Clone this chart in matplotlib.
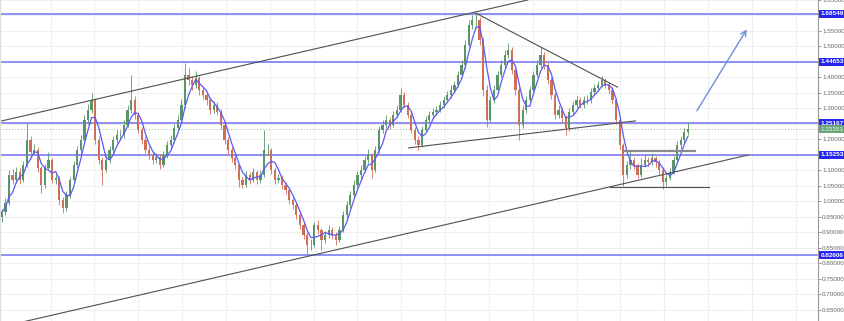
import numpy as np
import pandas as pd
import matplotlib
matplotlib.use("Agg")
import matplotlib.pyplot as plt

# one candle per ~2 months
first_open = 0.950
closes = [
    0.966, 0.995, 1.085, 1.069, 1.095, 1.069, 1.118, 1.198, 1.160, 1.166,
    1.108, 1.053, 1.108, 1.134, 1.069, 1.076, 1.005, 0.979, 1.021, 1.069,
    1.118, 1.166, 1.198, 1.263, 1.295, 1.327, 1.198, 1.134, 1.102, 1.134,
    1.166, 1.198, 1.215, 1.215, 1.247, 1.295, 1.327, 1.279, 1.231, 1.198,
    1.166, 1.150, 1.134, 1.144, 1.118, 1.150, 1.182, 1.198, 1.237, 1.263,
    1.311, 1.408, 1.392, 1.376, 1.398, 1.360, 1.344, 1.327, 1.295, 1.311,
    1.289, 1.247, 1.198, 1.166, 1.140, 1.118, 1.069, 1.053, 1.085, 1.069,
    1.095, 1.069, 1.085, 1.166, 1.166, 1.102, 1.069, 1.076, 1.053, 1.037,
    1.005, 0.989, 0.956, 0.924, 0.892, 0.860, 0.860, 0.924, 0.908, 0.876,
    0.892, 0.908, 0.892, 0.876, 0.908, 0.956, 0.989, 1.021, 1.053, 1.085,
    1.102, 1.134, 1.150, 1.102, 1.166, 1.231, 1.247, 1.263, 1.247, 1.279,
    1.295, 1.344, 1.311, 1.279, 1.231, 1.198, 1.182, 1.231, 1.263, 1.279,
    1.289, 1.295, 1.311, 1.327, 1.344, 1.360, 1.376, 1.408, 1.440, 1.505,
    1.569, 1.585, 1.585, 1.521, 1.360, 1.263, 1.327, 1.360, 1.408, 1.440,
    1.473, 1.489, 1.424, 1.360, 1.247, 1.295, 1.327, 1.360, 1.408, 1.440,
    1.473, 1.440, 1.392, 1.344, 1.279, 1.295, 1.269, 1.237, 1.289, 1.311,
    1.327, 1.311, 1.327, 1.327, 1.353, 1.366, 1.376, 1.392, 1.376, 1.360,
    1.327, 1.263, 1.182, 1.085, 1.118, 1.134, 1.118, 1.085, 1.118, 1.134,
    1.127, 1.140, 1.127, 1.102, 1.063, 1.076, 1.095, 1.134, 1.182, 1.198,
    1.224, 1.234,
]
highs = [
    0.975, 1.010, 1.100, 1.105, 1.110, 1.108, 1.130, 1.253, 1.210, 1.185,
    1.175, 1.115, 1.120, 1.160, 1.140, 1.090, 1.082, 1.015, 1.035, 1.080,
    1.130, 1.180, 1.215, 1.280, 1.315, 1.350, 1.335, 1.210, 1.145, 1.150,
    1.180, 1.212, 1.230, 1.232, 1.262, 1.310, 1.408, 1.340, 1.290, 1.240,
    1.210, 1.178, 1.160, 1.158, 1.152, 1.162, 1.195, 1.215, 1.250, 1.280,
    1.330, 1.447, 1.430, 1.405, 1.420, 1.405, 1.372, 1.355, 1.338, 1.325,
    1.322, 1.298, 1.255, 1.208, 1.175, 1.150, 1.125, 1.080, 1.098, 1.095,
    1.108, 1.102, 1.100, 1.231, 1.185, 1.172, 1.110, 1.090, 1.085, 1.062,
    1.045, 1.015, 0.998, 0.965, 0.935, 0.900, 0.880, 0.935, 0.940, 0.915,
    0.905, 0.925, 0.918, 0.900, 0.920, 0.968, 1.002, 1.035, 1.068, 1.098,
    1.118, 1.148, 1.168, 1.158, 1.180, 1.245, 1.262, 1.278, 1.272, 1.292,
    1.312, 1.366, 1.352, 1.320, 1.288, 1.240, 1.210, 1.242, 1.275, 1.292,
    1.302, 1.308, 1.325, 1.340, 1.358, 1.375, 1.390, 1.420, 1.455, 1.520,
    1.585, 1.600, 1.608, 1.595, 1.530, 1.375, 1.340, 1.375, 1.420, 1.455,
    1.488, 1.511, 1.498, 1.432, 1.368, 1.310, 1.340, 1.372, 1.420, 1.455,
    1.498, 1.482, 1.450, 1.400, 1.352, 1.310, 1.305, 1.278, 1.302, 1.325,
    1.340, 1.338, 1.340, 1.345, 1.365, 1.380, 1.390, 1.405, 1.398, 1.385,
    1.368, 1.335, 1.270, 1.190, 1.130, 1.162, 1.145, 1.125, 1.140, 1.150,
    1.145, 1.155, 1.148, 1.135, 1.110, 1.088, 1.108, 1.148, 1.195, 1.210,
    1.238, 1.256,
]
lows = [
    0.935, 0.958, 0.990, 1.055, 1.060, 1.055, 1.062, 1.110, 1.148, 1.150,
    1.095, 1.027, 1.045, 1.100, 1.060, 1.055, 0.990, 0.963, 0.970, 1.012,
    1.060, 1.108, 1.155, 1.190, 1.250, 1.285, 1.185, 1.120, 1.053, 1.095,
    1.125, 1.158, 1.188, 1.200, 1.205, 1.240, 1.285, 1.265, 1.220, 1.185,
    1.155, 1.138, 1.120, 1.125, 1.105, 1.110, 1.140, 1.170, 1.190, 1.228,
    1.255, 1.300, 1.375, 1.360, 1.365, 1.345, 1.330, 1.312, 1.282, 1.285,
    1.278, 1.235, 1.185, 1.152, 1.128, 1.105, 1.047, 1.045, 1.048, 1.058,
    1.062, 1.058, 1.060, 1.078, 1.150, 1.090, 1.058, 1.060, 1.040, 1.025,
    0.992, 0.975, 0.942, 0.910, 0.878, 0.827, 0.842, 0.852, 0.895, 0.844,
    0.865, 0.882, 0.880, 0.860, 0.868, 0.900, 0.948, 0.980, 1.012, 1.045,
    1.075, 1.095, 1.125, 1.076, 1.095, 1.158, 1.222, 1.238, 1.235, 1.240,
    1.270, 1.288, 1.300, 1.268, 1.220, 1.185, 1.166, 1.175, 1.225, 1.252,
    1.270, 1.280, 1.288, 1.302, 1.320, 1.335, 1.352, 1.370, 1.400, 1.432,
    1.498, 1.555, 1.560, 1.505, 1.340, 1.240, 1.255, 1.318, 1.352, 1.400,
    1.432, 1.462, 1.412, 1.345, 1.198, 1.238, 1.285, 1.318, 1.352, 1.400,
    1.430, 1.428, 1.380, 1.330, 1.265, 1.268, 1.255, 1.215, 1.228, 1.280,
    1.300, 1.300, 1.302, 1.315, 1.318, 1.345, 1.358, 1.368, 1.365, 1.348,
    1.315, 1.250, 1.170, 1.050, 1.075, 1.105, 1.105, 1.075, 1.078, 1.110,
    1.115, 1.118, 1.112, 1.090, 1.040, 1.050, 1.068, 1.088, 1.128, 1.170,
    1.188, 1.215,
]

# horizontal levels drawn on the chart and the text on their price tags
levels = [1.605, 1.450, 1.253, 1.150, 0.827]
level_tags = ["1.68549", "1.44653", "1.25167", "1.15253", "0.82606"]
last_price = 1.2335
last_tag = "1.23351"

# trend lines: (candle index, price) pairs
trend_lines = [
    [(0.0, 1.260), (146.4, 1.650)],
    [(0.0, 0.596), (207.8, 1.150)],
    [(131.9, 1.608), (171.4, 1.369)],
    [(113.3, 1.173), (176.4, 1.260)],
    [(169.4, 1.047), (196.9, 1.047)],
]
range_box_line = [(173.1, 1.163), (193.1, 1.163)]
arrow_line = [(193.1, 1.285), (207.8, 1.563)]

up_color = "#5b9468"
down_color = "#cf6f57"
level_color = "#7272f2"
tag_color = "#2626f0"


def draw_chart():
    n = len(closes)
    idx = np.arange(n)
    c = np.array(closes)
    o = np.concatenate([[first_open], c[:-1]])
    hi = np.array(highs)
    lo = np.array(lows)
    ma = pd.Series(c).rolling(4, min_periods=1).mean()

    fig = plt.figure(figsize=(8.45, 3.21), dpi=100)
    ax = fig.add_axes([0, 0, 818 / 845, 1])

    # grid
    ax.set_yticks(np.arange(0.60, 1.70, 0.05))
    ax.set_xticks(np.arange(13.6, 228, 12.2))
    ax.grid(True, color="#efefef", lw=0.8)
    ax.set_axisbelow(True)
    ax.tick_params(axis="x", length=0, labelbottom=False)

    for lv in levels:
        ax.axhline(lv, color=level_color, lw=1.1, zorder=2)
    ax.axhline(last_price, color="#8cbf94", lw=0.7, ls=(0, (1, 2)), zorder=2)

    colors = np.where(c >= o, up_color, down_color)
    ax.vlines(idx, lo, hi, colors=colors, lw=0.6, zorder=3)
    ax.bar(idx, c - o, bottom=o, width=0.62, color=colors, lw=0, zorder=3)
    ax.plot(idx, ma, color="#5a5af7", lw=0.9, zorder=4)

    for seg in trend_lines:
        xs, ys = zip(*seg)
        ax.plot(xs, ys, color="#505050", lw=0.8, zorder=5)
    xs, ys = zip(*range_box_line)
    ax.plot(xs, ys, color="#8a8a8a", lw=1.6, zorder=5)
    ax.annotate("", xy=arrow_line[1], xytext=arrow_line[0],
                arrowprops=dict(arrowstyle="->", color="#6f8fd6", lw=1.0), zorder=5)

    ax.set_xlim(-0.5, 818 / 3.6)
    ax.set_ylim(1.65 - 321 / 310, 1.65)

    # right price scale
    ax.yaxis.tick_right()
    labels = []
    for t in ax.get_yticks():
        near = any(abs(t - lv) < 0.02 for lv in levels)
        labels.append("" if near else f"{t:.5f}")
    ax.set_yticklabels(labels)
    ax.tick_params(axis="y", length=2, width=0.6, color="#888888", pad=1,
                   labelsize=4.5, labelcolor="#666666")
    for lab in ax.get_yticklabels():
        lab.set_family("Liberation Sans")
    for side in ["top", "bottom"]:
        ax.spines[side].set_visible(False)
    ax.spines["left"].set_color("#dddddd")
    ax.spines["right"].set_color("#999999")

    yt = ax.get_yaxis_transform()
    for lv, tag in zip(levels, level_tags):
        ax.text(1.003, lv, tag, transform=yt, ha="left", va="center",
                fontsize=4.6, color="white", family="Liberation Sans", fontweight="bold",
                bbox=dict(boxstyle="square,pad=0.2", fc=tag_color, ec="none"),
                clip_on=False, zorder=10)
    ax.text(1.003, last_price, last_tag, transform=yt, ha="left", va="center",
            fontsize=4.6, color="#e8f2e8", family="Liberation Sans",
            bbox=dict(boxstyle="square,pad=0.2", fc="#6ba57a", ec="none"),
            clip_on=False, zorder=10)

    fig.savefig("out.png", dpi=100)


if __name__ == "__main__":
    draw_chart()
